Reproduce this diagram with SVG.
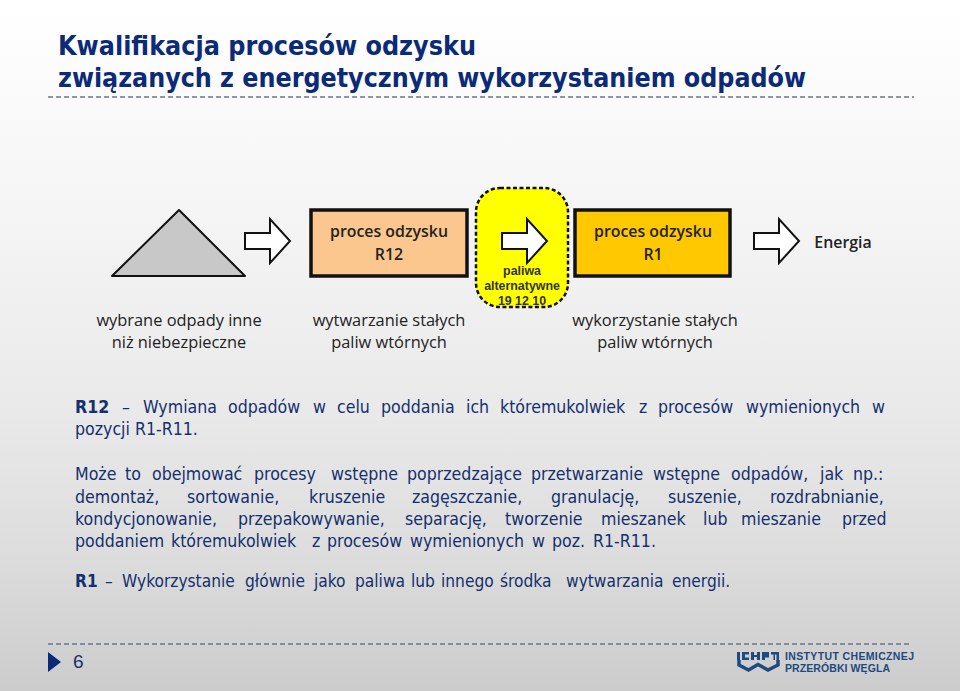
<svg xmlns="http://www.w3.org/2000/svg" width="960" height="691" viewBox="0 0 960 691">
<defs>
<linearGradient id="bg" x1="0" y1="0" x2="0" y2="1">
<stop offset="0" stop-color="#ffffff"/><stop offset="0.3" stop-color="#f5f5f5"/><stop offset="0.6" stop-color="#e9e9e9"/><stop offset="0.8" stop-color="#dddddd"/><stop offset="1" stop-color="#cccccc"/>
</linearGradient>
<path id="arrow" d="M0 -8H25V-22L45 0L25 22V8H0Z" fill="#fff" stroke="#111" stroke-width="2"/>
</defs>
<style>
.title{font:bold 27px "DejaVu Sans",sans-serif;font-stretch:condensed;fill:#0b2a78}
.lab{font:16.4px "Open Sans","Noto Sans",sans-serif;fill:#222;text-anchor:middle}
.blab{font:600 15.9px "Open Sans","Noto Sans",sans-serif;fill:#222;text-anchor:middle}
.body{font:17.6px "DejaVu Sans",sans-serif;font-stretch:condensed;fill:#14306e}
.b{font-weight:bold}
.small{font:bold 12.4px "Liberation Sans",Arial,sans-serif;fill:#333;text-anchor:middle}
.dash{stroke:#6b7488;stroke-width:1.5;stroke-dasharray:5 3;fill:none}
.logo{font:bold 10.5px "Liberation Sans",Arial,sans-serif;fill:#1d4a80}
</style>
<rect width="960" height="691" fill="url(#bg)"/>
<g id="title">
<text class="title" x="58" y="55" textLength="418" lengthAdjust="spacingAndGlyphs">Kwalifikacja procesów odzysku</text>
<text class="title" x="58" y="87" textLength="748" lengthAdjust="spacingAndGlyphs">związanych z energetycznym wykorzystaniem odpadów</text>
<line class="dash" x1="48" y1="97" x2="914" y2="97"/>
</g>
<g id="node-waste">
<path d="M112 276L179 210L245 276Z" fill="#c8c8c8" stroke="#111" stroke-width="2" stroke-linejoin="round"/>
<text class="lab" x="179" y="326">wybrane odpady inne</text>
<text class="lab" x="179" y="348">niż niebezpieczne</text>
</g>
<g id="connectors">
<use href="#arrow" x="245" y="241"/>
<use href="#arrow" x="754" y="241"/>
</g>
<g id="node-r12">
<rect x="311" y="210" width="156" height="66" fill="#fcc78f" stroke="#111" stroke-width="3.5"/>
<text class="blab" x="389" y="237">proces odzysku</text>
<text class="blab" x="389" y="260">R12</text>
<text class="lab" x="389" y="326">wytwarzanie stałych</text>
<text class="lab" x="389" y="348">paliw wtórnych</text>
</g>
<g id="node-fuel">
<rect x="476" y="188" width="92" height="119" rx="24" fill="#ffff00" stroke="#111" stroke-width="2.5" stroke-dasharray="4 2.5"/>
<use href="#arrow" x="502" y="241"/>
<text class="small" x="522" y="275">paliwa</text>
<text class="small" x="522" y="290">alternatywne</text>
<text class="small" x="522" y="305">19 12 10</text>
</g>
<g id="node-r1">
<rect x="575" y="210" width="155" height="66" fill="#ffc800" stroke="#111" stroke-width="3.5"/>
<text class="blab" x="653" y="237">proces odzysku</text>
<text class="blab" x="653" y="260">R1</text>
<text class="lab" x="655" y="326">wykorzystanie stałych</text>
<text class="lab" x="655" y="348">paliw wtórnych</text>
</g>
<g id="node-energy">
<text class="blab" x="843" y="248">Energia</text>
</g>
<g id="description">
<text class="body" y="413"><tspan x="75" class="b">R12</tspan><tspan x="122">–</tspan><tspan x="143">Wymiana</tspan><tspan x="228">odpadów</tspan><tspan x="313">w</tspan><tspan x="337">celu</tspan><tspan x="381">poddania</tspan><tspan x="466">ich</tspan><tspan x="500">któremukolwiek</tspan><tspan x="639">z</tspan><tspan x="658">procesów</tspan><tspan x="746">wymienionych</tspan><tspan x="872">w</tspan></text>
<text class="body" x="75" y="435">pozycji R1-R11.</text>
<text class="body" y="480"><tspan x="75">Może</tspan><tspan x="125">to</tspan><tspan x="152">obejmować</tspan><tspan x="254">procesy</tspan><tspan x="331">wstępne</tspan><tspan x="407">poprzedzające</tspan><tspan x="531">przetwarzanie</tspan><tspan x="653">wstępne</tspan><tspan x="731">odpadów,</tspan><tspan x="820">jak</tspan><tspan x="853">np.:</tspan></text>
<text class="body" y="503"><tspan x="75">demontaż,</tspan><tspan x="187">sortowanie,</tspan><tspan x="309">kruszenie</tspan><tspan x="412">zagęszczanie,</tspan><tspan x="551">granulację,</tspan><tspan x="668">suszenie,</tspan><tspan x="770">rozdrabnianie,</tspan></text>
<text class="body" y="525"><tspan x="75">kondycjonowanie,</tspan><tspan x="238">przepakowywanie,</tspan><tspan x="405">separację,</tspan><tspan x="505">tworzenie</tspan><tspan x="601">mieszanek</tspan><tspan x="703">lub</tspan><tspan x="741">mieszanie</tspan><tspan x="842">przed</tspan></text>
<text class="body" y="547"><tspan x="75">poddaniem</tspan><tspan x="171">któremukolwiek</tspan><tspan x="312">z</tspan><tspan x="327">procesów</tspan><tspan x="410">wymienionych</tspan><tspan x="532">w</tspan><tspan x="552">poz.</tspan><tspan x="593">R1-R11.</tspan></text>
<text class="body" y="587" style="font-size:17.2px"><tspan x="75" class="b">R1</tspan><tspan x="105">–</tspan><tspan x="122">Wykorzystanie</tspan><tspan x="245">głównie</tspan><tspan x="314">jako</tspan><tspan x="355">paliwa</tspan><tspan x="411">lub</tspan><tspan x="441">innego</tspan><tspan x="500">środka</tspan><tspan x="566">wytwarzania</tspan><tspan x="672">energii.</tspan></text>
</g>
<g id="footer">
<line class="dash" x1="48" y1="644" x2="912" y2="644"/>
<path d="M48 652L61 662L48 672Z" fill="#0b2a78"/>
<text x="73" y="668" style="font:19px 'Liberation Sans',Arial,sans-serif;fill:#1a2f6b">6</text>
<path d="M739 660V665L748.500 670L758 664.500L768 670L778 665V660" fill="none" stroke="#1d4a80" stroke-width="3.500"/>
<path d="M737 652h3v8h-3zM742 652h7v2.500h-4v3h4v2.500h-7zM751 652h3v3h3v-3h3v8h-3v-3h-3v3h-3zM762 652h7v5.500h-4v2.500h-3zM771 652h8v8h-2.500v-5.500h-1.500v5.500h-1.500v-5.500h-2.500z" fill="#1d4a80"/>
<text class="logo" x="785" y="660" textLength="129">INSTYTUT CHEMICZNEJ</text>
<text class="logo" x="785" y="672.200" textLength="105">PRZERÓBKI WĘGLA</text>
</g>
</svg>
